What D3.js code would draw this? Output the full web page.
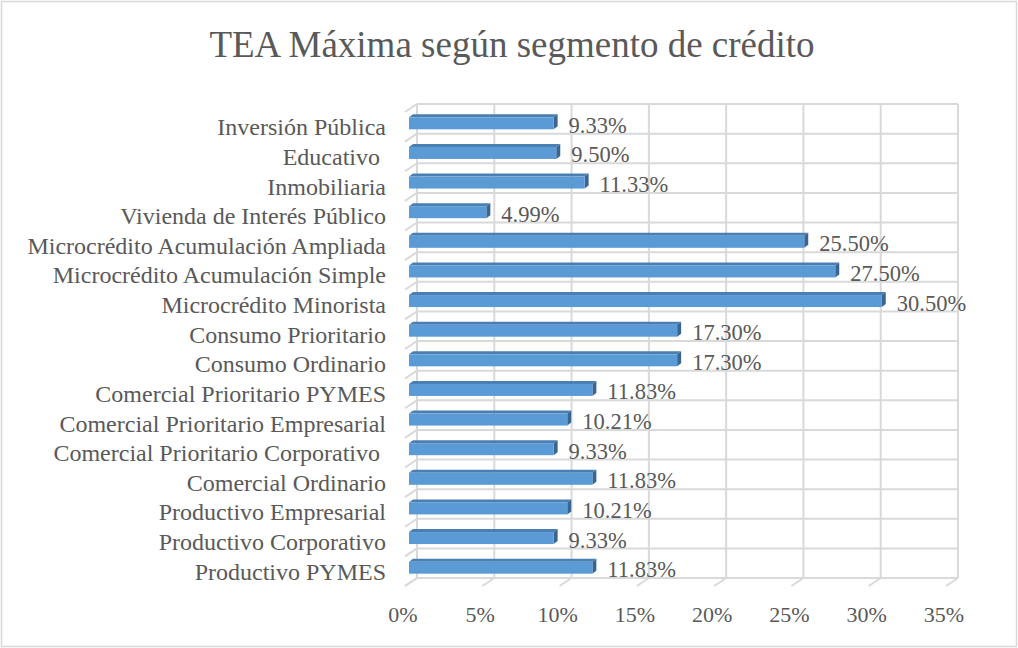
<!DOCTYPE html>
<html>
<head>
<meta charset="utf-8">
<script src="https://cdn.jsdelivr.net/npm/d3@7"></script>
<style>
  body { margin: 0; background: #fff; }
  text { font-family: "Liberation Serif", "Times New Roman", serif; fill: #595959; white-space: pre; }
</style>
</head>
<body>
<div id="chart"></div>
<script>
var w = 1018,
    h = 648;

// data
var categories = ["Inversión Pública", "Educativo ", "Inmobiliaria", "Vivienda de Interés Público",
  "Microcrédito Acumulación Ampliada", "Microcrédito Acumulación Simple", "Microcrédito Minorista",
  "Consumo Prioritario", "Consumo Ordinario", "Comercial Prioritario PYMES",
  "Comercial Prioritario Empresarial", "Comercial Prioritario Corporativo ", "Comercial Ordinario",
  "Productivo Empresarial", "Productivo Corporativo", "Productivo PYMES"];
var values = [9.33, 9.50, 11.33, 4.99, 25.50, 27.50, 30.50, 17.30, 17.30, 11.83, 10.21, 9.33, 11.83, 10.21, 9.33, 11.83];
var ticks = [0, 5, 10, 15, 20, 25, 30, 35];

var svg = d3.select("#chart")
  .append("svg")
  .attr("width", w)
  .attr("height", h);

// chart border
svg.append("rect")
  .attr("x", 1.5).attr("y", 1.5)
  .attr("width", w - 3).attr("height", h - 3)
  .attr("fill", "#fff")
  .attr("stroke", "#d9d9d9")
  .attr("stroke-width", 1.5);

svg.append("text")
  .attr("x", 512)
  .attr("y", 57)
  .attr("text-anchor", "middle")
  .attr("font-size", "37px")
  .text("TEA Máxima según segmento de crédito");

// 3d-ish scales: back wall, front of floor, bars in between
var xBack = d3.scaleLinear().domain([0, 35]).range([417, 958]);
var xFront = d3.scaleLinear().domain([0, 35]).range([405, 946]);
var xBar = d3.scaleLinear().domain([0, 35]).range([409, 951.5]);

var y = d3.scaleBand().domain(categories).range([104, 578]);
var wallTop = 104, wallBot = 578, ddx = -12, ddy = 8;

var grid = svg.append("g")
  .attr("stroke", "#d9d9d9")
  .attr("stroke-width", 2)
  .attr("fill", "none");

// back wall verticals
grid.selectAll(".vline")
  .data(ticks)
  .enter()
  .append("line")
  .attr("x1", function(d) { return xBack(d); })
  .attr("x2", function(d) { return xBack(d); })
  .attr("y1", wallTop)
  .attr("y2", wallBot);

// floor diagonals
grid.selectAll(".fline")
  .data(ticks)
  .enter()
  .append("line")
  .attr("x1", function(d) { return xBack(d); })
  .attr("y1", wallBot)
  .attr("x2", function(d) { return xFront(d); })
  .attr("y2", wallBot + ddy);

// horizontal lines at category boundaries + left wall diagonals
var bounds = categories.map(function(c) { return y(c); }).concat([wallBot]);
grid.selectAll(".hline")
  .data(bounds)
  .enter()
  .append("line")
  .attr("x1", xBack(0))
  .attr("x2", xBack(35))
  .attr("y1", function(d) { return d; })
  .attr("y2", function(d) { return d; });
grid.selectAll(".dline")
  .data(bounds)
  .enter()
  .append("line")
  .attr("x1", xBack(0))
  .attr("y1", function(d) { return d; })
  .attr("x2", xBack(0) + ddx)
  .attr("y2", function(d) { return d + ddy; });

// bars
var bh = 12, bdx = 4, bdy = -3;
function cy(d) { return y(d) + y.bandwidth() / 2 + 4.5; }

var bars = svg.selectAll(".bar")
  .data(categories)
  .enter()
  .append("g")
  .attr("class", "bar");

bars.append("polygon")
  .attr("fill", "#4a7fb3")
  .attr("points", function(d, i) {
    var x0 = xBar(0), x1 = xBar(values[i]), t = cy(d) - bh / 2;
    return [[x0, t], [x1, t], [x1 + bdx, t + bdy], [x0 + bdx, t + bdy]].join(" ");
  });
bars.append("polygon")
  .attr("fill", "#3a6592")
  .attr("points", function(d, i) {
    var x1 = xBar(values[i]), t = cy(d) - bh / 2, b = cy(d) + bh / 2;
    return [[x1, t], [x1 + bdx, t + bdy], [x1 + bdx, b + bdy], [x1, b]].join(" ");
  });
bars.append("rect")
  .attr("fill", "#5b9bd5")
  .attr("x", xBar(0))
  .attr("y", function(d) { return cy(d) - bh / 2; })
  .attr("width", function(d, i) { return xBar(values[i]) - xBar(0); })
  .attr("height", bh);

// value labels
svg.selectAll(".value")
  .data(categories)
  .enter()
  .append("text")
  .attr("class", "value")
  .attr("x", function(d, i) { return xBar(values[i]) + 15; })
  .attr("y", function(d) { return cy(d) + 9.5; })
  .attr("font-size", "22.5px")
  .text(function(d, i) { return values[i].toFixed(2) + "%"; });

// category labels
svg.selectAll(".cat")
  .data(categories)
  .enter()
  .append("text")
  .attr("class", "cat")
  .attr("x", 386)
  .attr("y", function(d) { return cy(d) + 12; })
  .attr("text-anchor", "end")
  .attr("font-size", "24px")
  .text(function(d) { return d; });

// x tick labels
svg.selectAll(".tick")
  .data(ticks)
  .enter()
  .append("text")
  .attr("x", function(d) { return xFront(d) - 2; })
  .attr("y", 622)
  .attr("text-anchor", "middle")
  .attr("font-size", "22px")
  .text(function(d) { return d + "%"; });
</script>
</body>
</html>
